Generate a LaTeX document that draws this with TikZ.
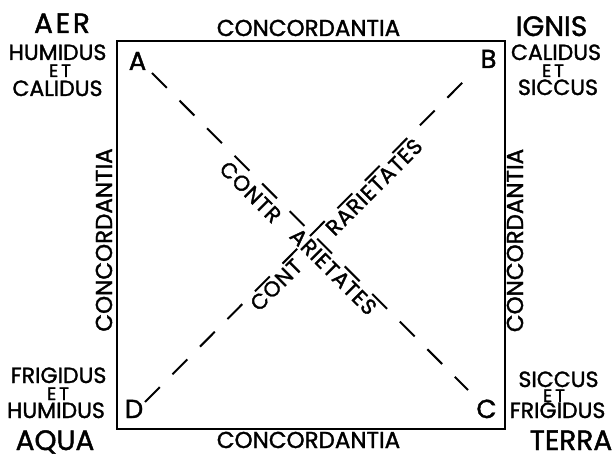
\documentclass[tikz,border=0pt]{standalone}
\usepackage{fontspec}
\setmainfont{Poppins}[FakeBold=1.5]
\newfontfamily\spaced{Poppins}[FakeBold=1.5,LetterSpace=10]
\newfontfamily\diagfont{Poppins}[FakeBold=1.5,LetterSpace=4]
\newfontfamily\wide{Poppins}[FakeBold=1.5,LetterSpace=16]
\begin{document}
\begin{tikzpicture}[x=1pt,y=-1pt,
  every node/.style={inner sep=0pt,outer sep=0pt,text=black},
  side/.style={font=\fontsize{23}{23}\selectfont,anchor=base},
  elem/.style={font=\fontsize{28}{28}\selectfont,anchor=base},
  qual/.style={font=\fontsize{22}{22}\selectfont,anchor=base},
  etword/.style={font=\wide\fontsize{18}{18}\selectfont,anchor=base},
  corner/.style={font=\fontsize{26}{26}\selectfont,anchor=base},
  diag/.style={font=\diagfont\fontsize{21.5}{21.5}\selectfont,anchor=center},
  frame/.style={draw=black,line width=2pt},
  diagline/.style={draw=black,line width=2pt,dash pattern=on 21pt off 18pt}
]
\useasboundingbox (0,0) rectangle (613,454);
\fill[white] (0,0) rectangle (613,454);
% square
\draw[frame] (116.5,41) rectangle (504.5,429);
% corner letters
\node[corner] (A) at (137.5,70) {A};
\node[corner] (B) at (488.5,68) {B};
\node[corner] (C) at (486.5,418) {C};
\node[corner] (D) at (134,418) {D};
% diagonals
\coordinate (a1) at (152,73);
\coordinate (c1) at (468,390);
\coordinate (b1) at (467,78);
\coordinate (d1) at (145,402);
\draw[diagline] (a1) -- (c1);
\draw[diagline] (d1) -- (b1);
% diagonal texts
\node[diag,rotate=-45] (t1) at (250.5,192) {CONTR};
\node[diag,rotate=-45] (t2) at (333.5,271.5) {ARIETATES};
\node[diag,rotate=45] (t3) at (276,285) {CONT};
\node[diag,rotate=45] (t4) at (374,187) {RARIETATES};
% side labels
\node[side] (top) at (308.5,36) {CONCORDANTIA};
\node[side] (bot) at (308.5,448) {CONCORDANTIA};
\node[side,rotate=90] (lft) at (112,240) {CONCORDANTIA};
\node[side,rotate=90] (rgt) at (523,240.5) {CONCORDANTIA};
% top left
\node[elem,font=\spaced\fontsize{28}{28}\selectfont] (aer) at (62,33) {AER};
\node[qual] (tl1) at (57.5,60) {HUMIDUS};
\node[etword] (tl2) at (60,77) {ET};
\node[qual] (tl3) at (57.5,96) {CALIDUS};
% top right
\node[elem] (ignis) at (551.5,36) {IGNIS};
\node[qual] (tr1) at (556,60) {CALIDUS};
\node[etword] (tr2) at (553,77) {ET};
\node[qual] (tr3) at (558,95) {SICCUS};
% bottom left
\node[qual] (bl1) at (58.5,383) {FRIGIDUS};
\node[etword] (bl2) at (58,400) {ET};
\node[qual] (bl3) at (56,418) {HUMIDUS};
\node[elem] (aqua) at (55,450) {AQUA};
% bottom right
\node[qual] (br1) at (558.5,387) {SICCUS};
\node[etword] (br2) at (554,402) {ET};
\node[qual] (br3) at (557.5,418) {FRIGIDUS};
\node[elem] (terra) at (571,450) {TERRA};
\end{tikzpicture}
\end{document}
